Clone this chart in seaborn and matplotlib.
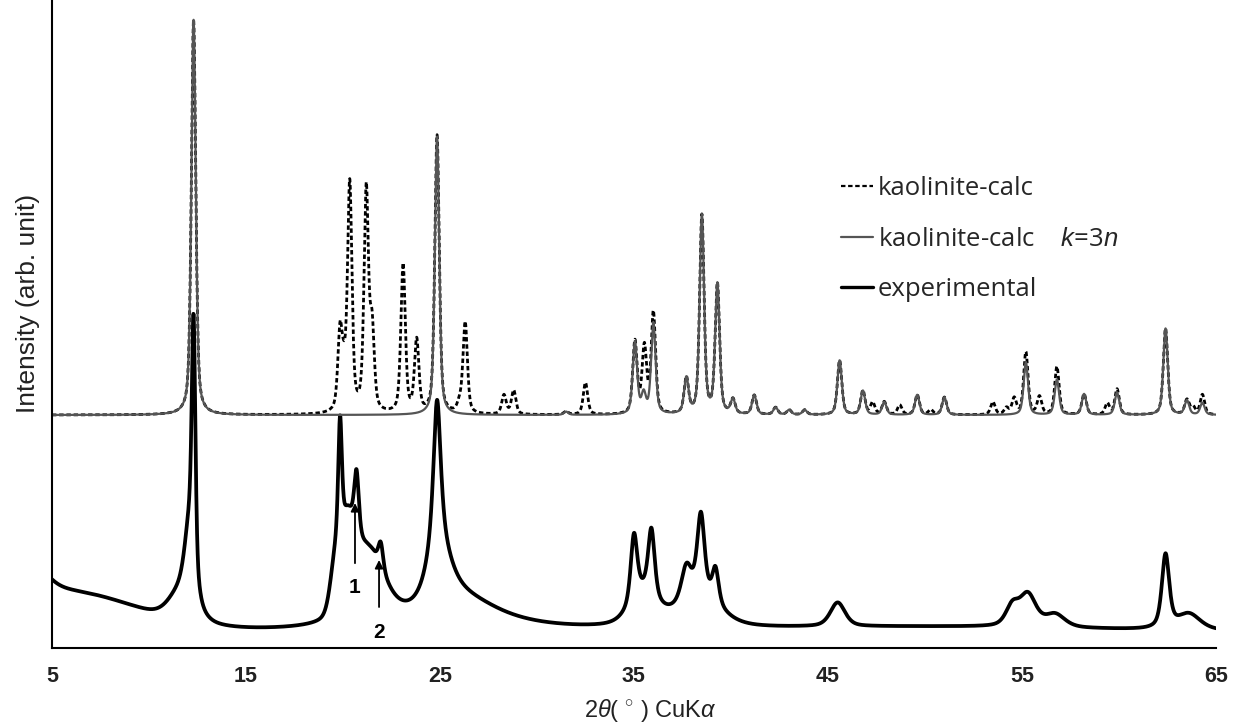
"""XRD patterns of kaolinite: calculated (all / k=3n reflections) and experimental."""

import matplotlib

matplotlib.use("Agg")

import matplotlib.pyplot as plt
import numpy as np
import pandas as pd
import seaborn as sns
from matplotlib.lines import Line2D

# ---- data ---------------------------------------------------------------
# calculated pattern, reflections with k = 3n (solid grey curve)
K3N_POS = [12.3, 24.85, 31.5, 35.05, 35.5, 36.0, 37.7, 38.5, 39.3, 40.1,
           41.2, 42.3, 43.0, 43.8, 45.6, 46.8, 47.9, 49.6, 51.0, 55.2,
           56.8, 58.2, 59.9, 62.4, 63.5, 64.3]
K3N_INT = [2.47, 1.74, 0.02, 0.45, 0.12, 0.57, 0.22, 1.24, 0.81, 0.09,
           0.12, 0.045, 0.03, 0.03, 0.34, 0.15, 0.08, 0.125, 0.11, 0.33,
           0.22, 0.13, 0.14, 0.54, 0.09, 0.075]
# extra reflections that only the full calculated pattern has (dotted curve)
EXTRA_POS = [19.85, 20.05, 20.35, 21.2, 21.5, 23.1, 23.8, 26.0, 26.3, 28.3,
             28.8, 32.5, 35.55, 36.0, 47.3, 48.7, 50.3, 53.5, 54.2, 54.6,
             55.2, 55.9, 56.8, 59.4, 59.9, 63.8, 64.3]
EXTRA_INT = [0.48, 0.18, 1.42, 1.38, 0.5, 0.93, 0.45, 0.05, 0.57, 0.12,
             0.15, 0.2, 0.3, 0.06, 0.075, 0.06, 0.03, 0.08, 0.04, 0.1,
             0.06, 0.11, 0.08, 0.07, 0.02, 0.05, 0.05]
CALC_OFFSET = 1.456
CALC_FWHM = 0.27

# experimental pattern, described as a set of peaks on a flat base
EXP_BASE = 0.1
EXP_POS = [4.5, 6.0, 11.7, 12.1, 12.3,
           19.6, 19.85, 20.2, 20.7, 21.3, 21.95,
           24.85, 24.85, 25.3, 26.5,
           35.0, 35.9, 35.5, 37.7, 38.45, 39.2, 38.3,
           50.0, 45.5, 54.5, 55.3, 56.7, 62.4, 63.6]
EXP_INT = [0.15, 0.23, 0.18, 0.45, 1.5,
           0.2, 0.72, 0.5, 0.38, 0.45, 0.16,
           0.9, 0.3, 0.15, 0.15,
           0.42, 0.42, 0.2, 0.2, 0.5, 0.22, 0.2,
           0.03, 0.15, 0.12, 0.2, 0.08, 0.46, 0.1]
EXP_FWHM = [1.5, 8.0, 1.5, 0.6, 0.22,
            0.6, 0.22, 1.0, 0.28, 2.0, 0.3,
            0.45, 1.2, 2.0, 5.0,
            0.4, 0.4, 1.6, 0.6, 0.45, 0.4, 2.5,
            20.0, 0.9, 0.8, 1.0, 1.2, 0.45, 1.4]
EXP_ETA = [1.0, 0.0, 0.3, 0.5, 0.5,
           0.0, 0.5, 0.3, 0.5, 0.5, 0.5,
           0.8, 0.7, 1.0, 1.0,
           0.6, 0.6, 0.5, 0.5, 0.6, 0.6, 0.5,
           0.0, 0.5, 0.5, 0.5, 0.5, 0.6, 0.5]

# arrows marking the two extra experimental reflections
MARK_POS = [20.62, 21.86]
MARK_LABELS = ["1", "2"]
MARK_HEAD = [0.906, 0.55]
MARK_TAIL = [0.53, 0.256]
MARK_TEXT = [0.38, 0.094]

TICKS = [5, 15, 25, 35, 45, 55, 65]


def pseudo_voigt(x, pos, amp, fwhm, eta):
    """Sum of pseudo-Voigt peaks evaluated on x."""
    y = np.zeros_like(x)
    for c, a, w, e in zip(pos, amp, fwhm, eta):
        d = (x - c) / (w / 2)
        lor = 1 / (1 + d ** 2)
        gau = np.exp(-np.log(2) * d ** 2)
        y += a * (e * lor + (1 - e) * gau)
    return y


def build_patterns() -> pd.DataFrame:
    x = np.linspace(5, 65, 6001)
    n1 = len(K3N_POS)
    k3n = CALC_OFFSET + pseudo_voigt(x, K3N_POS, K3N_INT, [CALC_FWHM] * n1, [0.5] * n1)
    pos_all = K3N_POS + EXTRA_POS
    int_all = K3N_INT + EXTRA_INT
    n2 = len(pos_all)
    full = CALC_OFFSET + pseudo_voigt(x, pos_all, int_all, [CALC_FWHM] * n2, [0.5] * n2)
    exp = EXP_BASE + pseudo_voigt(x, EXP_POS, EXP_INT, EXP_FWHM, EXP_ETA)
    return pd.DataFrame({"two_theta": x, "full": full, "k3n": k3n, "exp": exp})


def main() -> None:
    sns.set_theme(style="white")
    plt.rcParams["font.family"] = ["Liberation Sans", "DejaVu Sans"]
    plt.rcParams["mathtext.fontset"] = "custom"
    plt.rcParams["mathtext.rm"] = "Liberation Sans"
    plt.rcParams["mathtext.it"] = "Liberation Sans:italic"

    df = build_patterns()

    fig = plt.figure(figsize=(12.34, 7.27), dpi=100)
    ax = fig.add_axes([0.0421, 0.1087, 0.9433, 0.8913])

    sns.lineplot(data=df, x="two_theta", y="exp", color="black", lw=2.7, ax=ax)
    sns.lineplot(data=df, x="two_theta", y="full", color="black", lw=2.0,
                 linestyle=(0, (1.6, 1.0)), ax=ax)
    sns.lineplot(data=df, x="two_theta", y="k3n", color="#555555", lw=1.6, ax=ax)

    for xp, lab, head, tail, ty in zip(MARK_POS, MARK_LABELS, MARK_HEAD, MARK_TAIL, MARK_TEXT):
        ax.annotate("", xy=(xp, head), xytext=(xp, tail),
                    arrowprops=dict(arrowstyle="-|>", color="black", lw=1.3,
                                    mutation_scale=12, shrinkA=0, shrinkB=0))
        ax.text(xp, ty, lab, ha="center", va="center", fontsize=15,
                fontweight="bold", color="black")

    ax.set_xlim(5, 65)
    ax.set_ylim(0, 4.05)
    ax.set_xticks(TICKS)
    ax.set_xticklabels([str(t) for t in TICKS], fontsize=15.5, fontweight="bold",
                       color="#222222")
    ax.set_yticks([1])
    ax.set_yticklabels([])
    ax.tick_params(axis="x", direction="out", length=5, width=1.2, color="black", pad=8)
    ax.tick_params(axis="y", direction="in", length=5, width=1.2, color="#777777")
    for side in ("top", "right"):
        ax.spines[side].set_visible(False)
    for side in ("left", "bottom"):
        ax.spines[side].set_color("black")
        ax.spines[side].set_linewidth(1.5)

    ax.set_xlabel(r"2$\it{\theta}$( $^{\circ}$ ) CuK$\it{\alpha}$", fontsize=17,
                  color="#222222")
    ax.xaxis.set_label_coords(0.514, -0.076)
    ax.set_ylabel("Intensity (arb. unit)", fontsize=19, color="#222222")
    ax.yaxis.set_label_coords(-0.0103, 0.532)

    handles = [
        Line2D([], [], color="black", lw=1.6, linestyle=(0, (2.0, 1.2))),
        Line2D([], [], color="#555555", lw=1.6),
        Line2D([], [], color="black", lw=2.4),
    ]
    labels = ["kaolinite-calc", r"kaolinite-calc    $k$=3$n$", "experimental"]
    ax.legend(handles, labels, loc="upper left", bbox_to_anchor=(0.673, 0.772),
              bbox_transform=fig.transFigure, frameon=False,
              prop={"family": ["Open Sans", "DejaVu Sans"], "size": 18.5},
              handlelength=1.25, handletextpad=0.2, labelspacing=1.0,
              borderaxespad=0)

    fig.savefig("out.png", dpi=100)
    plt.close(fig)


if __name__ == "__main__":
    main()
